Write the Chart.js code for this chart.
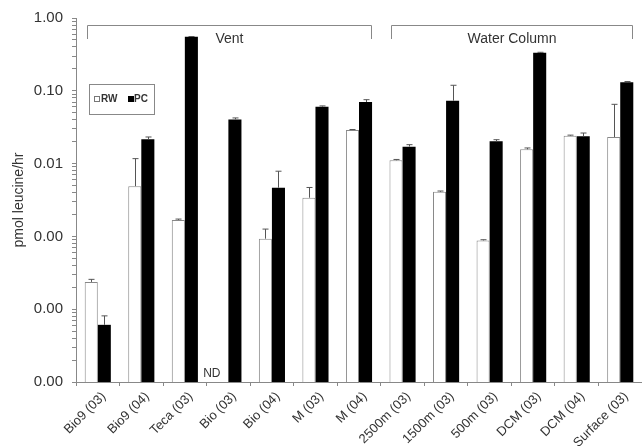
<!DOCTYPE html>
<html>
<head>
<meta charset="utf-8">
<script src="https://cdn.jsdelivr.net/npm/chart.js@4"></script>
<style>
  html, body { margin: 0; padding: 0; background: #fff; }
  #wrap { width: 642px; height: 446px; position: relative; }
</style>
</head>
<body>
<div id="wrap"><canvas id="leucineChart"></canvas></div>
<script>
/* eslint-disable*/

const sites = ['Bio9 (03)', 'Bio9 (04)', 'Teca (03)', 'Bio (03)', 'Bio (04)', 'M (03)', 'M (04)',
  '2500m (03)', '1500m (03)', '500m (03)', 'DCM (03)', 'DCM (04)', 'Surface (03)'];

// pmol leucine / hr
const rwValues = [0.000237, 0.0049, 0.00168, null, 0.00093, 0.0034, 0.029, 0.0111, 0.0041, 0.00088, 0.0157, 0.0241, 0.0232];
const rwErrors = [0.00002, 0.0068, 0.00005, null, 0.00033, 0.0013, 0.0004, 0.0003, 0.0001, 0.00002, 0.0007, 0.0005, 0.042];
const pcValues = [0.000061, 0.0216, 0.553, 0.0405, 0.00466, 0.0605, 0.0702, 0.0171, 0.0731, 0.0202, 0.333, 0.0237, 0.131];
const pcErrors = [0.00002, 0.0016, 0.004, 0.0019, 0.0032, 0.0015, 0.0053, 0.0011, 0.046, 0.0011, 0.005, 0.0026, 0.003];

const yTicks = [0.00001, 0.0001, 0.001, 0.01, 0.1, 1];

const groupNames = ['Vent', 'Water Column'];
const groupStart = [0, 7];
const groupEnd = [6, 12];
const ndSite = 3;

const textColor = '#333';
const lineColor = '#888';
const fontFamily = 'Arial, "Liberation Sans", Helvetica, sans-serif';

const extrasPlugin = {
  id: 'extras',
  afterDatasetsDraw(chart) {
    const ctx = chart.ctx;
    const y = chart.scales.y;
    const area = chart.chartArea;
    const errs = [rwErrors, pcErrors];
    const vals = [rwValues, pcValues];

    // error bars (upper only)
    ctx.save();
    ctx.strokeStyle = '#555';
    ctx.lineWidth = 1;
    [0, 1].forEach((d) => {
      const meta = chart.getDatasetMeta(d);
      meta.data.forEach((bar, i) => {
        if (vals[d][i] == null || errs[d][i] == null) return;
        const x = Math.round(bar.x) + 0.5;
        const top = y.getPixelForValue(vals[d][i] + errs[d][i]);
        const base = y.getPixelForValue(vals[d][i]);
        ctx.beginPath();
        ctx.moveTo(x, base);
        ctx.lineTo(x, top);
        ctx.moveTo(x - 3, top);
        ctx.lineTo(x + 3, top);
        ctx.stroke();
      });
    });

    // ND label
    const ndBar = chart.getDatasetMeta(0).data[ndSite];
    ctx.fillStyle = textColor;
    ctx.font = '12px ' + fontFamily;
    ctx.textAlign = 'center';
    ctx.textBaseline = 'bottom';
    ctx.fillText('ND', ndBar.x - 10, area.bottom - 2);

    // group brackets
    const m0 = chart.getDatasetMeta(0);
    const m1 = chart.getDatasetMeta(1);
    ctx.strokeStyle = lineColor;
    ctx.font = '14px ' + fontFamily;
    ctx.textBaseline = 'middle';
    groupNames.forEach((name, g) => {
      const b0 = m0.data[groupStart[g]];
      const b1 = m1.data[groupEnd[g]];
      const x0 = Math.round(b0.x - b0.width / 2) + 2.5;
      const x1 = Math.round(b1.x + b1.width / 2) - 0.5;
      const yTop = area.top + 7.5;
      ctx.beginPath();
      ctx.moveTo(x0, area.top + 21);
      ctx.lineTo(x0, yTop);
      ctx.lineTo(x1, yTop);
      ctx.lineTo(x1, area.top + 21);
      ctx.stroke();
      ctx.fillText(name, (x0 + x1) / 2, area.top + 21);
    });

    // legend box
    const lx = area.left + 13;
    const ly = area.top + 66;
    ctx.strokeStyle = lineColor;
    ctx.strokeRect(lx + 0.5, ly + 0.5, 65, 30);
    ctx.font = 'bold 10px ' + fontFamily;
    ctx.textAlign = 'left';
    ctx.fillStyle = '#fff';
    ctx.fillRect(lx + 5.5, ly + 12.5, 5, 5);
    ctx.strokeStyle = '#777';
    ctx.strokeRect(lx + 5.5, ly + 12.5, 5, 5);
    ctx.fillStyle = textColor;
    ctx.fillText(chart.data.datasets[0].label, lx + 12, ly + 15.5);
    ctx.fillStyle = '#000';
    ctx.fillRect(lx + 39, ly + 12, 6, 6);
    ctx.fillStyle = textColor;
    ctx.fillText(chart.data.datasets[1].label, lx + 45, ly + 15.5);
    ctx.restore();
  },
};

const ctx = document.getElementById('leucineChart');

const leucineChart = new Chart(ctx, {
  type: 'bar',
  data: {
    labels: sites,
    datasets: [
      {
        label: 'RW',
        data: rwValues,
        backgroundColor: '#fff',
        borderColor: lineColor,
        borderWidth: 1,
        borderSkipped: 'bottom',
      },
      {
        label: 'PC',
        data: pcValues,
        backgroundColor: '#000',
        borderWidth: 0,
      },
    ],
  },
  options: {
    responsive: true,
    maintainAspectRatio: false,
    animation: false,
    layout: { padding: { top: 16, right: 0, left: 11, bottom: 0 } },
    datasets: { bar: { categoryPercentage: 0.6, barPercentage: 1.0 } },
    plugins: {
      legend: { display: false },
      tooltip: { enabled: false },
    },
    scales: {
      x: {
        grid: {
          offset: true,
          drawOnChartArea: false,
          tickLength: 4,
          tickColor: lineColor,
        },
        border: { color: lineColor },
        ticks: {
          color: textColor,
          font: { family: fontFamily, size: 13 },
          minRotation: 45,
          maxRotation: 45,
          autoSkip: false,
          padding: 3,
          labelOffset: 6,
        },
        afterFit(scale) {
          scale.height = 64;
        },
      },
      y: {
        type: 'logarithmic',
        min: yTicks[0],
        max: yTicks[yTicks.length - 1],
        title: {
          display: true,
          text: 'pmol leucine/hr',
          color: textColor,
          font: { family: fontFamily, size: 14 },
          padding: 0,
        },
        grid: {
          drawOnChartArea: false,
          tickLength: 4,
          tickColor: lineColor,
        },
        border: { color: lineColor },
        afterBuildTicks(scale) {
          const ticks = [];
          yTicks.forEach((v, i) => {
            ticks.push({ value: v });
            if (i < yTicks.length - 1) {
              for (let k = 2; k <= 9; k++) ticks.push({ value: v * k });
            }
          });
          scale.ticks = ticks;
        },
        ticks: {
          color: textColor,
          font: { family: fontFamily, size: 15 },
          padding: 9,
          autoSkip: false,
          callback(value) {
            return yTicks.some((t) => Math.abs(t - value) / t < 1e-6) ? Number(value).toFixed(2) : '';
          },
        },
        afterFit(scale) {
          scale.width = 65;
        },
      },
    },
  },
  plugins: [extrasPlugin],
});
</script>
</body>
</html>
